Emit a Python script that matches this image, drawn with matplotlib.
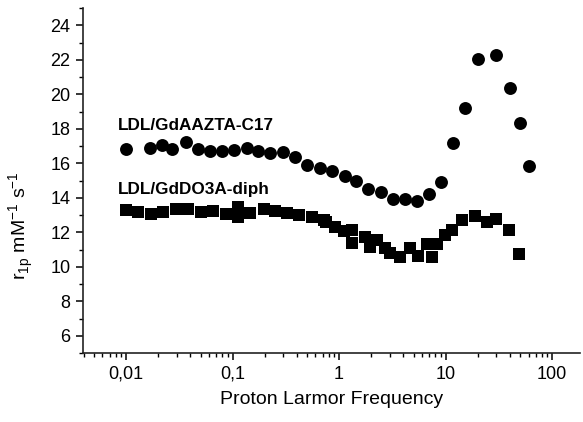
import matplotlib
matplotlib.use("Agg")
import matplotlib.pyplot as plt
from matplotlib.ticker import FixedLocator, FixedFormatter, LogLocator, MultipleLocator, NullFormatter

plt.rcParams['font.family'] = ['Liberation Sans', 'DejaVu Sans']

# Series 1: LDL/GdAAZTA-C17 (circles)
aazta_freq = [0.01, 0.0166, 0.0216, 0.0268, 0.0366, 0.0477, 0.0615, 0.0792, 0.102,
              0.136, 0.175, 0.225, 0.296, 0.386, 0.504, 0.664, 0.853, 1.14, 1.44,
              1.88, 2.46, 3.19, 4.17, 5.44, 7.0, 9.0, 11.7, 15.2, 20, 30, 40, 50, 60]
aazta_r1 = [16.83, 16.89, 17.08, 16.83, 17.21, 16.83, 16.69, 16.69, 16.75,
            16.89, 16.69, 16.60, 16.63, 16.37, 15.92, 15.73, 15.54, 15.25, 14.96,
            14.52, 14.35, 13.9, 13.9, 13.8, 14.19, 14.92, 17.17, 19.23, 22.02, 22.27,
            20.38, 18.36, 15.82]

# Series 2: LDL/GdDO3A-diph (squares)
do3a_freq = [0.01, 0.013, 0.0171, 0.0224, 0.0294, 0.0384, 0.0502, 0.066, 0.0869,
             0.113, 0.113, 0.146, 0.195, 0.25, 0.323, 0.424, 0.554, 0.72, 0.75,
             0.92, 1.1, 1.32, 1.32, 1.75, 1.95, 2.26, 2.7, 3.0, 3.74, 4.65, 5.56,
             6.66, 7.42, 8.26, 9.9, 11.4, 14.2, 18.9, 24.4, 29.8, 39.7, 49.3]
do3a_r1 = [13.29, 13.19, 13.06, 13.16, 13.33, 13.33, 13.16, 13.25, 13.06,
           13.45, 12.87, 13.1, 13.33, 13.25, 13.1, 13.0, 12.87, 12.7, 12.6,
           12.3, 12.05, 12.13, 11.36, 11.74, 11.16, 11.55, 11.07, 10.78, 10.55,
           11.07, 10.62, 11.3, 10.58, 11.3, 11.84, 12.13, 12.71, 12.95, 12.61,
           12.78, 12.13, 10.72]

x_ticks = [0.01, 0.1, 1, 10, 100]
x_tick_labels = ["0,01", "0,1", "1", "10", "100"]
y_ticks = [6, 8, 10, 12, 14, 16, 18, 20, 22, 24]

fig = plt.figure(figsize=(5.83, 4.22), dpi=100)
ax = fig.add_axes([0.1424, 0.1635, 0.8526, 0.8175])

ax.plot(aazta_freq, aazta_r1, linestyle='none', marker='o', markersize=9.3,
        color='black', markeredgewidth=0)
ax.plot(do3a_freq, do3a_r1, linestyle='none', marker='s', markersize=9,
        color='black', markeredgewidth=0)

ax.set_xscale('log')
ax.set_xlim(0.00394, 183)
ax.set_ylim(5, 25)

ax.xaxis.set_major_locator(FixedLocator(x_ticks))
ax.xaxis.set_major_formatter(FixedFormatter(x_tick_labels))
ax.xaxis.set_minor_locator(LogLocator(base=10, subs=range(2, 10), numticks=20))
ax.xaxis.set_minor_formatter(NullFormatter())
ax.yaxis.set_major_locator(FixedLocator(y_ticks))
ax.yaxis.set_minor_locator(MultipleLocator(1))

for s in ['top', 'right']:
    ax.spines[s].set_visible(False)
for s in ['left', 'bottom']:
    ax.spines[s].set_linewidth(1.2)
    ax.spines[s].set_color('#222222')

ax.tick_params(which='major', direction='out', length=5, width=1.1, labelsize=13, pad=4)
ax.tick_params(which='minor', direction='out', length=3, width=1.0)

ax.set_xlabel('Proton Larmor Frequency', fontsize=14, labelpad=6)
ax.set_ylabel(r'r$_{\mathregular{1p}}$ mM$^{\mathregular{-1}}$ s$^{\mathregular{-1}}$', fontsize=14)
ax.yaxis.set_label_coords(-0.095, 0.37)

ax.text(0.0084, 17.93, 'LDL/GdAAZTA-C17', fontsize=12.3, fontweight='bold')
ax.text(0.0084, 14.22, 'LDL/GdDO3A-diph', fontsize=12.3, fontweight='bold')

fig.savefig('out.png', dpi=100)
